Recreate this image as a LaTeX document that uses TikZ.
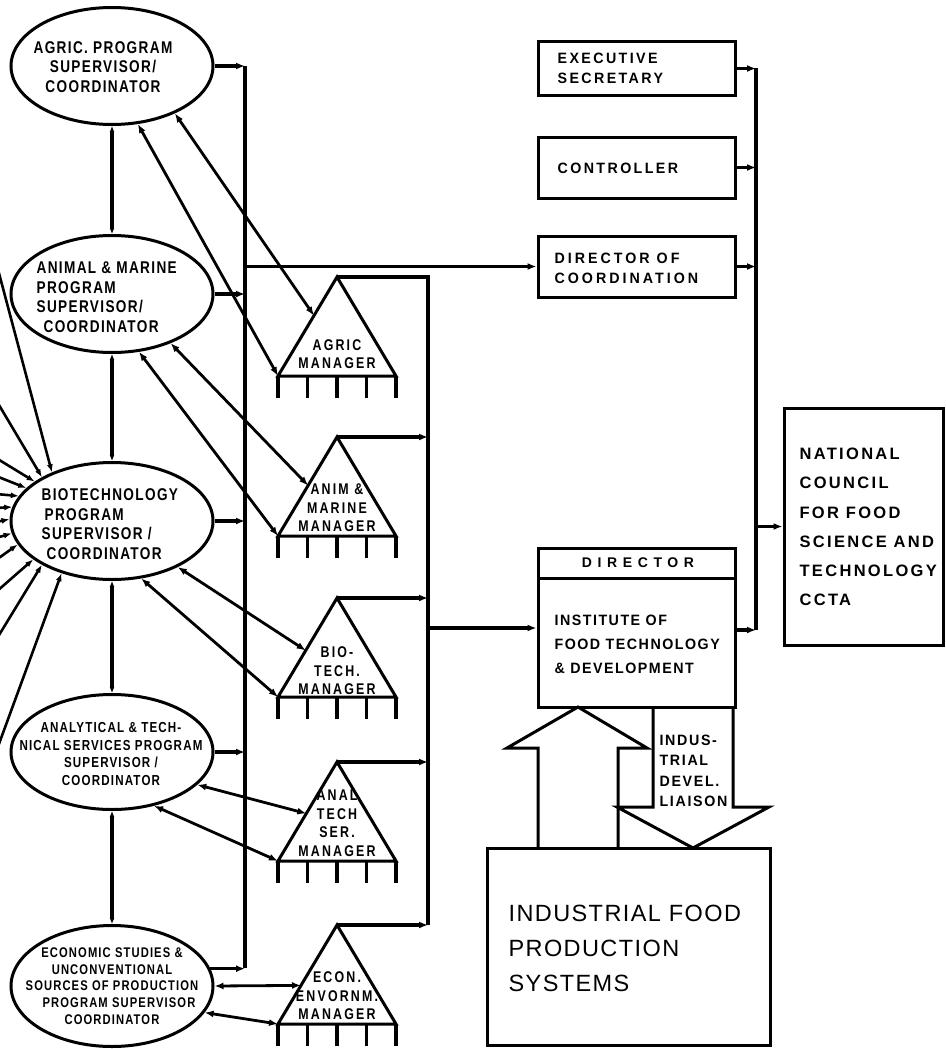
\documentclass[tikz,border=0pt]{standalone}
\usepackage{fontspec}
\setmainfont{Liberation Sans}
\usetikzlibrary{arrows.meta,shapes.geometric,calc}

% bold lettering: size, baseline skip, letter spacing, stretch
\newcommand{\lett}[4]{\fontsize{#1}{#2}\selectfont\bfseries\addfontfeatures{LetterSpace=#3,FakeStretch=#4}}

% manager triangle with five legs: name, apex y, text y, text
\newcommand{\manager}[4]{%
  \coordinate (#1a) at (337,#2);
  \coordinate (#1l) at (278,#2+99);
  \coordinate (#1r) at (396,#2+99);
  \draw[line width=3pt] (#1l) -- (#1a) -- (#1r) -- cycle;
  \foreach \k in {0,...,4} \draw[line width=3.4pt] (278+\k*29.5,#2+99) -- ++(0,22);
  \node[mtext] (#1t) at (337,#3) {#4};
}

\begin{document}
\begin{tikzpicture}[x=1pt,y=-1pt,line width=3.2pt,
  arr/.style={-{Latex[length=9pt,width=7pt]}},
  darr/.style={{Latex[length=9pt,width=7pt]}-{Latex[length=9pt,width=7pt]},line width=2.8pt},
  sarr/.style={{Latex[length=6pt,width=5pt]}-{Latex[length=6pt,width=5pt]},line width=3.4pt},
  ray/.style={-{Latex[length=8pt,width=6pt]},line width=2.6pt},
  prog/.style={draw,ellipse,minimum width=202pt,minimum height=117pt,inner sep=0pt,line width=3pt},
  box/.style={draw,rectangle,inner sep=0pt,line width=3pt},
  ptext/.style={inner sep=0pt,font=\lett{17}{19.5}{8}{0.8}},
  stext/.style={inner sep=0pt,font=\lett{14.5}{17.5}{8}{0.8}},
  mtext/.style={inner sep=0pt,align=center,font=\lett{15.5}{18.5}{14}{0.8}},
  btext/.style={inner sep=0pt,align=left,anchor=west,font=\lett{15}{20}{16}{0.95}},
]
\useasboundingbox (0,0) rectangle (945,1049);
\clip (0,0) rectangle (945,1049);

% ---------- program supervisors ----------
\node[prog] (agric) at (112,66) {};
\node[prog] (anim) at (112,294) {};
\node[prog] (bio) at (112,521) {};
\node[prog,minimum height=115pt] (anal) at (112,752) {};
\node[prog,minimum height=121pt] (econ) at (112,986) {};

\node[ptext,align=center] (agrict) at (103,67) {AGRIC. PROGRAM\\SUPERVISOR/\\COORDINATOR};
\node[ptext,align=left,anchor=west] (animt) at (35,297) {ANIMAL \& MARINE\\PROGRAM\\SUPERVISOR/\\\hspace{7pt}COORDINATOR};
\node[ptext,align=left,anchor=west] (biot) at (40,524) {BIOTECHNOLOGY\\\hspace{3pt}PROGRAM\\SUPERVISOR /\\\hspace{5pt}COORDINATOR};
\node[stext,align=center] (analt) at (111,754) {ANALYTICAL \& TECH-\\NICAL SERVICES PROGRAM\\SUPERVISOR /\\COORDINATOR};
\node[stext,align=center,font=\lett{14}{16.8}{8}{0.8}] (econt) at (112,986) {ECONOMIC STUDIES \&\\UNCONVENTIONAL\\SOURCES OF PRODUCTION\\\hspace{14pt}PROGRAM SUPERVISOR\\COORDINATOR};

% links between supervisors
\draw[sarr] (agric.south) -- (anim.north);
\draw[sarr] (anim.south) -- (bio.north);
\draw[sarr] (bio.south) -- (anal.north);
\draw[sarr] (anal.south) -- (econ.north);

% inputs converging on biotechnology
\foreach \sy/\ang in {262/141,400/148,458/153,476/159,494/165,508/172,522/179,538/187,560/194,592/206,640/212,752/226}
  \draw[ray] (-4,\sy) -- (bio.\ang);

% ---------- managers ----------
\manager{ma}{277}{354}{AGRIC\\MANAGER}
\manager{mb}{437}{508}{ANIM \& \\MARINE\\MANAGER}
\manager{mc}{598}{671}{BIO-\\TECH.\\MANAGER}
\manager{md}{762}{823}{ANAL\\TECH\\SER.\\MANAGER}
\manager{me}{925}{996}{ECON.\\ENVORNM.\\MANAGER}

% supervisor <-> manager links
\draw[darr] (agric.-66) -- (mal);
\draw[darr] (agric.-37) -- ($(maa)!0.39!(mal)$);
\draw[darr] (anim.-65) -- (mbl);
\draw[darr] (anim.-40) -- ($(mba)!0.49!(mbl)$);
\draw[darr] (bio.-35) -- ($(mca)!0.53!(mcl)$);
\draw[darr] (bio.-63) -- (mcl);
\draw[darr] (anal.-21) -- ($(mda)!0.52!(mdl)$);
\draw[darr] (anal.-52) -- (mdl);
\draw[darr] (econ.east) -- ($(mea)!0.61!(mel)$);
\draw[darr] (econ.-16) -- (mel);

% ---------- right-hand boxes ----------
\node[box,minimum width=197pt,minimum height=53pt] (ex) at (636.5,68.5) {};
\node[box,minimum width=197pt,minimum height=61pt] (ctl) at (636.5,167.5) {};
\node[box,minimum width=197pt,minimum height=61pt] (dc) at (636.5,266.5) {};
\node[box,minimum width=197pt,minimum height=30pt] (dir) at (636.5,563) {};
\node[box,minimum width=197pt,minimum height=129pt] (inst) at (636.5,642.5) {};
\node[box,minimum width=159pt,minimum height=237pt] (nc) at (863.5,526.5) {};
\node[box,minimum width=283pt,minimum height=197pt] (ind) at (628.5,946.5) {};

\node[btext] (ext) at (556,68) {EXECUTIVE\\SECRETARY};
\node[btext] (ctlt) at (556,168) {CONTROLLER};
\node[btext,font=\lett{15}{20}{20}{0.95}] (dct) at (553,268) {DIRECTOR OF\\COORDINATION};
\node[inner sep=0pt,font=\lett{14}{15}{40}{1}] (dirt) at (638,563) {DIRECTOR};
\node[btext,font=\lett{15}{24}{10}{0.95}] (instt) at (553,644) {INSTITUTE OF\\FOOD TECHNOLOGY\\\& DEVELOPMENT};
\node[btext,font=\lett{16.5}{29.2}{14}{1}] (nct) at (798,527) {NATIONAL\\COUNCIL\\FOR FOOD\\SCIENCE AND\\TECHNOLOGY\\CCTA};
\node[inner sep=0pt,align=left,anchor=west,font=\fontsize{23.5}{35}\selectfont\addfontfeatures{LetterSpace=6}] (indt) at (507,948) {INDUSTRIAL FOOD\\PRODUCTION\\SYSTEMS};

% ---------- big arrows between institute and industry ----------
\draw[line width=3pt,line join=miter] (538,848) -- (538,748) -- (507,748) -- (578,707) -- (647,748) -- (618,748) -- (618,848);
\draw[line width=3pt,line join=miter] (653,707) -- (653,807) -- (617,807) -- (693,848) -- (769,807) -- (733,807) -- (733,707);
\node[btext,font=\lett{15}{20.5}{11}{0.95}] (liat) at (658,771) {INDUS-\\TRIAL\\DEVEL.\\LIAISON};

% ---------- buses ----------
% left bus collecting the supervisors
\coordinate (lb1) at (245,66);
\coordinate (lb2) at (245,968);
\draw[line width=3.6pt] (lb1) -- (lb2);
\draw[arr] (agric.east) -- (lb1);
\draw[arr] (anim.east) -- (anim.east -| lb1);
\draw[arr] (bio.east) -- (bio.east -| lb1);
\draw[arr] (anal.east) -- (anal.east -| lb1);
\draw[arr] (econ.10) -- (econ.10 -| lb1);
\draw[arr] (lb1 |- dc.west) -- (dc.west);

% middle bus collecting the managers
\coordinate (mb1) at (428,277);
\coordinate (mb2) at (428,925);
\draw[line width=3.4pt] (maa) -- (mb1) -- (mb2);
\draw[arr] (mba) -- (mba -| mb1);
\draw[arr] (mca) -- (mca -| mb1);
\draw[arr] (mda) -- (mda -| mb1);
\draw[arr] (mea) -- (mea -| mb1);
\coordinate (mi) at (428,628);
\draw[arr] (mi) -- (mi -| inst.west);

% right bus to the national council
\coordinate (rb1) at (756,68.5);
\coordinate (rb2) at (756,630);
\draw[line width=3.6pt] (rb1) -- (rb2);
\draw[arr] (ex.east) -- (rb1);
\draw[arr] (ctl.east) -- (ctl.east -| rb1);
\draw[arr] (dc.east) -- (dc.east -| rb1);
\draw[arr] (rb2 -| inst.east) -- (rb2);
\draw[arr] (rb1 |- nc.west) -- (nc.west);
\end{tikzpicture}
\end{document}
